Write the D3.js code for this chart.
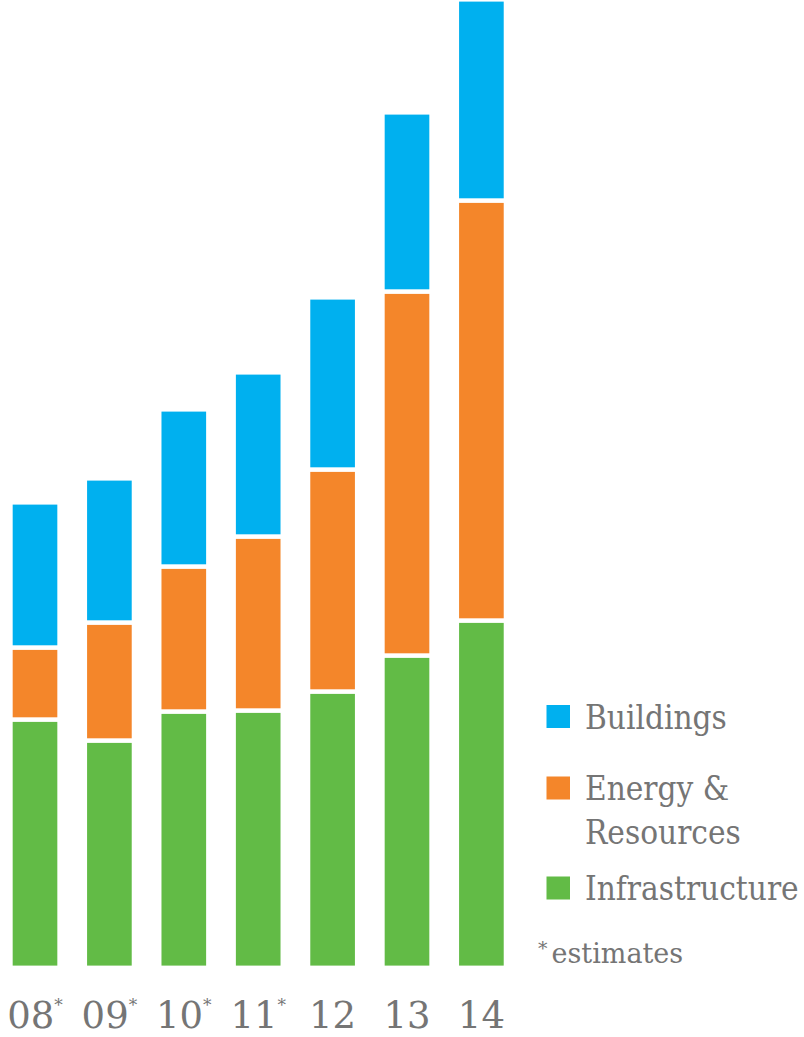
<!DOCTYPE html>
<html>
<head>
<meta charset="utf-8">
<script src="https://cdn.jsdelivr.net/npm/d3@7/dist/d3.min.js"></script>
<style>
  html, body { margin: 0; padding: 0; background: #ffffff; }
  svg { display: block; }
  text { font-family: "DejaVu Serif", serif; fill: #757575; }
  .legend-label { font-family: "DejaVu Serif Condensed", "DejaVu Serif", serif; }
</style>
</head>
<body>
<svg id="chart" width="804" height="1037"></svg>
<script>
// Years shown along the bottom; estimated years carry an asterisk
const years = ["08", "09", "10", "11", "12", "13", "14"];
const estimated = [true, true, true, true, false, false, false];

// Stacked values per year (bottom to top)
const infrastructure = [24.6, 22.5, 25.4, 25.5, 27.4, 31.0, 34.5];
const energyResources = [7.2, 11.8, 14.5, 17.4, 22.2, 36.4, 42.0];
const buildings = [14.3, 14.2, 15.5, 16.2, 17.0, 17.7, 19.9];

const seriesNames = ["Infrastructure", "Energy & Resources", "Buildings"];
const seriesColors = ["#62bb46", "#f4862a", "#00b0ef"];

const svg = d3.select("#chart");

const table = years.map((yr, i) => ({
  year: yr,
  "Infrastructure": infrastructure[i],
  "Energy & Resources": energyResources[i],
  "Buildings": buildings[i]
}));

const stacked = d3.stack().keys(seriesNames)(table);

const x = d3.scaleBand()
  .domain(years)
  .range([-2.2, 518.6])
  .paddingInner(0.4)
  .paddingOuter(0.2);

const y = d3.scaleLinear()
  .domain([0, 100])
  .range([965.6, -34.4]);

const color = d3.scaleOrdinal().domain(seriesNames).range(seriesColors);

// white gap between stacked segments
const gap = 4.6;

const layers = svg.append("g").selectAll("g")
  .data(stacked)
  .join("g")
  .attr("fill", d => color(d.key));

layers.each(function (layer, li) {
  const last = li === stacked.length - 1;
  d3.select(this).selectAll("rect")
    .data(layer)
    .join("rect")
    .attr("x", d => x(d.data.year))
    .attr("width", x.bandwidth())
    .attr("y", d => y(d[1]) + (last ? 0 : gap / 2))
    .attr("height", d => {
      const top = y(d[1]) + (last ? 0 : gap / 2);
      const bottom = y(d[0]) - (li === 0 ? 0 : gap / 2);
      return Math.max(0, bottom - top);
    });
});

// year labels
const labels = svg.append("g").selectAll("text")
  .data(years)
  .join("text")
  .attr("x", d => x(d) + x.bandwidth() / 2)
  .attr("y", 1028)
  .attr("text-anchor", "middle")
  .style("font-size", "37px");

labels.append("tspan").text(d => d);
labels.filter((d, i) => estimated[i])
  .append("tspan")
  .attr("dy", -17)
  .style("font-size", "17px")
  .text("*");

// legend
const legendItems = [
  { key: "Buildings", lines: ["Buildings"], y: 705 },
  { key: "Energy & Resources", lines: ["Energy &", "Resources"], y: 776.5 },
  { key: "Infrastructure", lines: ["Infrastructure"], y: 876.5 }
];

const legend = svg.append("g");
const item = legend.selectAll("g")
  .data(legendItems)
  .join("g")
  .attr("transform", d => `translate(546.5,${d.y})`);

item.append("rect")
  .attr("width", 23.5)
  .attr("height", 23)
  .attr("fill", d => color(d.key));

item.each(function (d) {
  d3.select(this).selectAll("text")
    .data(d.lines)
    .join("text")
    .attr("class", "legend-label")
    .attr("x", 38.5)
    .attr("y", (t, i) => 23.5 + i * 44)
    .style("font-size", "33px")
    .text(t => t);
});

const note = legend.append("text")
  .attr("x", 538)
  .attr("y", 963)
  .style("font-size", "27px");
note.append("tspan").attr("dy", -8).style("font-size", "19px").text("*");
note.append("tspan").attr("dy", 8).attr("dx", 4).text("estimates");
</script>
</body>
</html>
